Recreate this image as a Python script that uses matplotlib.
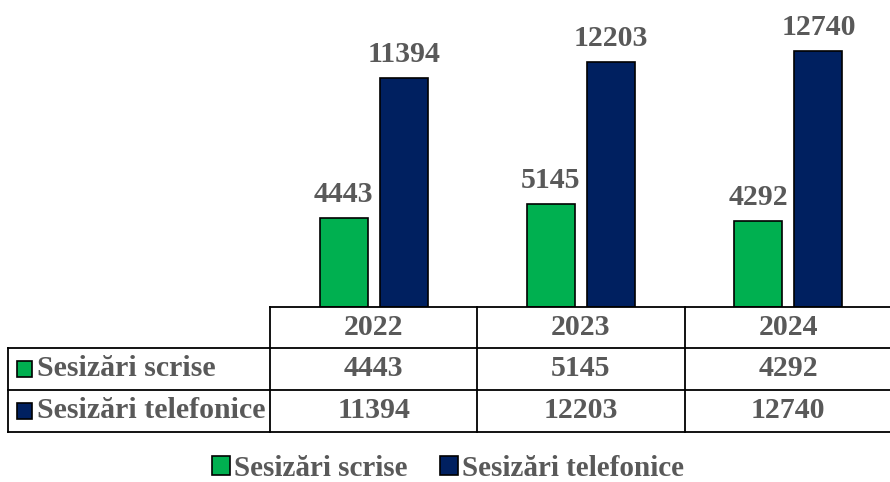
import numpy as np
import matplotlib.pyplot as plt

years = ['2022', '2023', '2024']
scrise = [4443, 5145, 4292]
telefonice = [11394, 12203, 12740]
series_names = ['Sesizări scrise', 'Sesizări telefonice']
colors = ['#00B050', '#002060']
txt = '#595959'

plt.rcParams['font.family'] = ['Liberation Serif', 'DejaVu Serif']
plt.rcParams['font.weight'] = 'bold'
fs = 21.5

W, H = 890, 482
fig = plt.figure(figsize=(W / 100, H / 100), dpi=100)

# plot area (pixels)
x0, x1, ybase = 270, 892, 307
ax = fig.add_axes([x0 / W, 1 - ybase / H, (x1 - x0) / W, ybase / H])
x = np.arange(len(years))
bw = 0.232
off = 0.145
b1 = ax.bar(x - off, scrise, bw, color=colors[0], edgecolor='black', linewidth=1.2)
b2 = ax.bar(x + off, telefonice, bw, color=colors[1], edgecolor='black', linewidth=1.2)
for bars, vals in ((b1, scrise), (b2, telefonice)):
    for b, v in zip(bars, vals):
        ax.annotate(str(v), (b.get_x() + b.get_width() / 2, v), xytext=(0, 7),
                    textcoords='offset points', ha='center', va='bottom',
                    fontsize=fs, fontweight='bold', color=txt)
ax.set_xlim(-0.5, 2.5)
ax.set_ylim(0, 15270)
ax.axis('off')

# data table below the plot
def fx(px):
    return px / W

def fy(py):
    return 1 - py / H

rows = [ybase, 348, 390, 432]
col_w = (x1 - x0) / len(years)
cols = [x0 + i * col_w for i in range(len(years) + 1)]
lw = 1.3
fig.add_artist(plt.Line2D([fx(x0), fx(x1)], [fy(rows[0])] * 2, color='black', lw=lw))
for r in rows[1:]:
    fig.add_artist(plt.Line2D([fx(8), fx(x1)], [fy(r)] * 2, color='black', lw=lw))
for c in cols:
    fig.add_artist(plt.Line2D([fx(c)] * 2, [fy(rows[0]), fy(rows[-1])], color='black', lw=lw))
fig.add_artist(plt.Line2D([fx(8)] * 2, [fy(rows[1]), fy(rows[-1])], color='black', lw=lw))

for i, y in enumerate(years):
    fig.text(fx(cols[i] + col_w / 2), fy((rows[0] + rows[1]) / 2), y, ha='center', va='center',
             fontsize=fs, fontweight='bold', color=txt)
for j, (name, vals) in enumerate(zip(series_names, [scrise, telefonice])):
    yc = fy((rows[j + 1] + rows[j + 2]) / 2)
    fig.patches.append(plt.Rectangle((fx(17), yc - 8 / H), 15 / W, 16 / H, transform=fig.transFigure,
                                     facecolor=colors[j], edgecolor='black', lw=1.2))
    fig.text(fx(37), yc, name, ha='left', va='center', fontsize=fs, fontweight='bold', color=txt)
    for i, v in enumerate(vals):
        fig.text(fx(cols[i] + col_w / 2), yc, str(v), ha='center', va='center',
                 fontsize=fs, fontweight='bold', color=txt)

leg = fig.legend([b1, b2], series_names, loc='center', bbox_to_anchor=(fx(448), fy(468)),
                 ncol=2, frameon=False, fontsize=21, handlelength=0.62, handleheight=0.62,
                 handletextpad=0.15, columnspacing=1.1)
for t in leg.get_texts():
    t.set_color(txt)
    t.set_fontweight('bold')

fig.savefig('out.png', dpi=100)
